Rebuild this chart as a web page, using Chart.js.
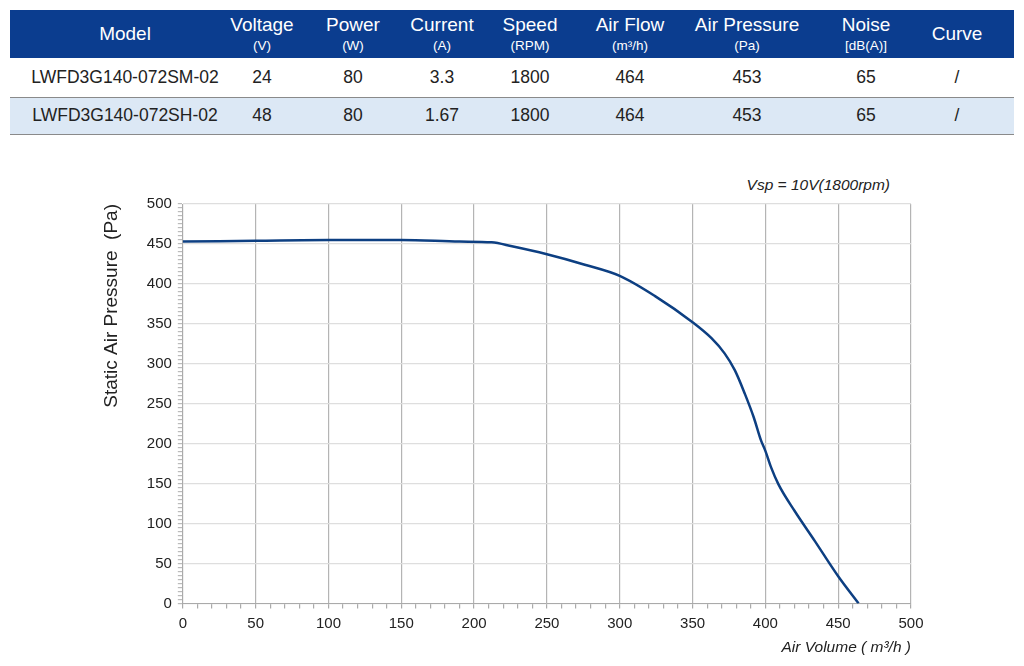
<!DOCTYPE html>
<html>
<head>
<meta charset="utf-8">
<script src="https://cdn.jsdelivr.net/npm/chart.js@4.4.0/dist/chart.umd.min.js"></script>
<style>
  body { margin: 0; background: #fff; font-family: "Liberation Sans", Arial, sans-serif; }
  #spec { position: absolute; left: 10px; top: 10px; width: 1004px; border-collapse: collapse; table-layout: fixed; }
  #spec th, #spec td { box-sizing: border-box; padding: 0; text-align: center; }
  #spec th { background: #0b3d8f; color: #fff; font-weight: normal; font-size: 19px; height: 48px; line-height: 20px; }
  #spec th small { display: block; font-size: 13.5px; line-height: 16px; margin-top: 3px; }
  #spec td { font-size: 17.5px; color: #222; border-bottom: 1px solid #8a8a8a; }
  #spec .first { padding-left: 20px; }
  #spec .last { padding-right: 20px; }
  #spec tr.r1 td { height: 39px; }
  #spec tr.r2 td { height: 37px; background: #dce8f5; }
  #vsp { position: absolute; top: 176px; right: 134px; font-size: 15.5px; font-style: italic; color: #222; }
  #wrap { position: absolute; left: 0; top: 160px; width: 1024px; height: 506px; }
</style>
</head>
<body>
<table id="spec"></table>
<div id="vsp">Vsp = 10V(1800rpm)</div>
<div id="wrap"><canvas id="myChart"></canvas></div>
<script>
// table
var headers = ['Model', 'Voltage', 'Power', 'Current', 'Speed', 'Air Flow', 'Air Pressure', 'Noise', 'Curve'];
var units = ['', '(V)', '(W)', '(A)', '(RPM)', '(m³/h)', '(Pa)', '[dB(A)]', ''];
var colWidths = [210, 84, 98, 80, 96, 104, 130, 108, 94];
var row1 = ['LWFD3G140-072SM-02', '24', '80', '3.3', '1800', '464', '453', '65', '/'];
var row2 = ['LWFD3G140-072SH-02', '48', '80', '1.67', '1800', '464', '453', '65', '/'];

// curve
var airVolume = [0, 50, 100, 150, 190, 212, 226, 250, 276, 300, 324, 350, 363, 372, 379, 386, 392, 397, 400, 404, 409, 420, 434, 450, 464];
var pressure = [453, 454, 455, 455, 453, 452, 447, 437, 424, 410, 385, 352, 332, 313, 292, 262, 233, 204, 191, 170, 149, 116, 78, 34, 0];

function cls(i) {
    if (i === 0) return ' class="first"';
    if (i === headers.length - 1) return ' class="last"';
    return '';
}

var html = '<tr>';
headers.forEach(function (h, i) {
    html += '<th' + cls(i) + ' style="width:' + colWidths[i] + 'px">' + h + (units[i] ? '<small>' + units[i] + '</small>' : '') + '</th>';
});
html += '</tr><tr class="r1">';
row1.forEach(function (v, i) { html += '<td' + cls(i) + '>' + v + '</td>'; });
html += '</tr><tr class="r2">';
row2.forEach(function (v, i) { html += '<td' + cls(i) + '>' + v + '</td>'; });
html += '</tr>';
document.getElementById('spec').innerHTML = html;

var pts = [];
for (var i = 0; i < airVolume.length; i++) {
    pts.push({ x: airVolume[i], y: pressure[i] });
}

Chart.defaults.font.family = '"Liberation Sans", Arial, sans-serif';
Chart.defaults.color = '#222';

var ctx = document.getElementById('myChart').getContext('2d');
var myChart = new Chart(ctx, {
    type: 'line',
    data: {
        datasets: [{
            label: 'Vsp = 10V',
            data: pts,
            borderColor: '#0d3f82',
            borderWidth: 2.5,
            pointRadius: 0,
            cubicInterpolationMode: 'monotone',
            fill: false
        }]
    },
    options: {
        responsive: true,
        maintainAspectRatio: false,
        animation: false,
        layout: { padding: { left: 84, right: 113, top: 44, bottom: 5 } },
        plugins: { legend: { display: false }, tooltip: { enabled: false } },
        scales: {
            x: {
                type: 'linear',
                min: 0, max: 500,
                ticks: {
                    stepSize: 10, autoSkip: false, maxRotation: 0, padding: 6,
                    font: { size: 15 }, color: '#222',
                    callback: function (v) { return v % 50 === 0 ? v : ''; }
                },
                grid: {
                    tickLength: 5,
                    tickColor: '#aaa',
                    color: function (c) { return c.tick && c.tick.value % 50 === 0 ? '#b4b4b4' : 'rgba(0,0,0,0)'; },
                    lineWidth: 1.2
                },
                border: { color: '#aaa' },
                title: { display: true, text: 'Air Volume ( m³/h )', align: 'end', font: { size: 15.5, style: 'italic' }, color: '#222', padding: { top: 0 } }
            },
            y: {
                min: 0, max: 500,
                ticks: {
                    stepSize: 5, autoSkip: false, padding: 6,
                    font: { size: 15 }, color: '#222',
                    callback: function (v) { return v % 50 === 0 ? v : ''; }
                },
                grid: {
                    tickLength: 5,
                    tickColor: '#bbb',
                    color: function (c) { return c.tick && c.tick.value % 50 === 0 ? '#dedede' : 'rgba(0,0,0,0)'; },
                    lineWidth: 1.2
                },
                border: { color: '#aaa' },
                title: { display: true, text: 'Static Air Pressure  (Pa)', align: 'end', font: { size: 19 }, color: '#222', padding: { top: 16, bottom: 18 } }
            }
        }
    }
});
</script>
</body>
</html>
